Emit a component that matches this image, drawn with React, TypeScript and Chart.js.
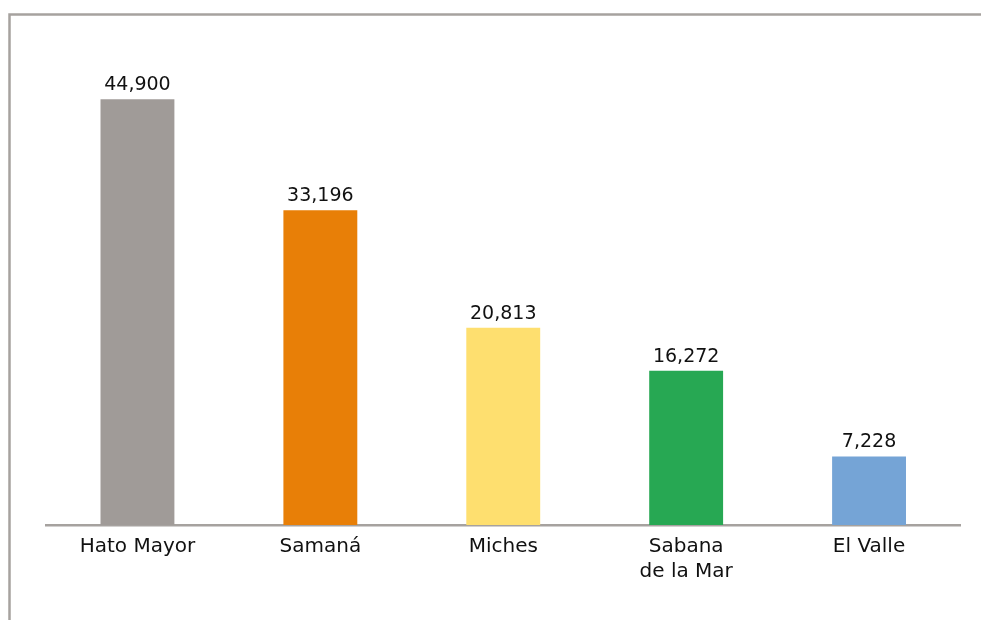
import { useEffect, useRef } from "react";
import { Chart, registerables } from "chart.js";

Chart.register(...registerables);

const categories: (string | string[])[] = ["Hato Mayor", "Samaná", "Miches", ["Sabana", "de la Mar"], "El Valle"];
const values: number[] = [44900, 33196, 20813, 16272, 7228];
const barColors: string[] = ["#A09B98", "#E87F07", "#FEDF6F", "#27A853", "#75A4D6"];

const FONT = "'DejaVu Sans', sans-serif";

const framePlugin = {
  id: "frame",
  beforeDraw(chart: any) {
    const ctx = chart.ctx;
    ctx.save();
    ctx.strokeStyle = "#A6A29F";
    ctx.lineWidth = 2.5;
    ctx.beginPath();
    ctx.moveTo(1000, 14.5);
    ctx.lineTo(9.5, 14.5);
    ctx.lineTo(9.5, 700);
    ctx.stroke();
    ctx.restore();
  },
};

const valueLabelPlugin = {
  id: "valueLabels",
  afterDatasetsDraw(chart: any) {
    const ctx = chart.ctx;
    const meta = chart.getDatasetMeta(0);
    ctx.save();
    ctx.fillStyle = "#111111";
    ctx.font = `19px ${FONT}`;
    ctx.textAlign = "center";
    ctx.textBaseline = "alphabetic";
    meta.data.forEach((bar: any, i: number) => {
      ctx.fillText(values[i].toLocaleString("en-US"), bar.x, bar.y - 9);
    });
    ctx.restore();
  },
};

export default function App() {
  const ref = useRef<HTMLCanvasElement>(null);
  useEffect(() => {
    if (!ref.current) return;
    const chart = new Chart(ref.current, {
      type: "bar",
      data: {
        labels: categories,
        datasets: [
          {
            data: values,
            backgroundColor: barColors,
            borderWidth: 0,
            barPercentage: 0.404,
            categoryPercentage: 1,
          },
        ],
      },
      options: {
        responsive: false,
        animation: false,
        devicePixelRatio: 1,
        layout: { padding: { left: 46, right: 20.5, top: 51, bottom: 0 } },
        plugins: { legend: { display: false }, tooltip: { enabled: false } },
        scales: {
          x: {
            grid: { display: false },
            border: { display: true, color: "#A6A29F", width: 2.5 },
            ticks: {
              color: "#111111",
              font: { family: FONT, size: 20, lineHeight: 1.25 },
              padding: 1,
              maxRotation: 0,
              autoSkip: false,
            },
            afterFit(scale: any) {
              scale.height = 95;
            },
          },
          y: {
            display: false,
            min: 0,
            max: 50000,
          },
        },
      },
      plugins: [framePlugin, valueLabelPlugin],
    });
    return () => chart.destroy();
  }, []);
  return (
    <div style={{ position: "fixed", left: 0, top: 0, width: 981, height: 620, background: "#fff" }}>
      <canvas ref={ref} width={981} height={620} style={{ width: 981, height: 620, display: "block" }} />
    </div>
  );
}
